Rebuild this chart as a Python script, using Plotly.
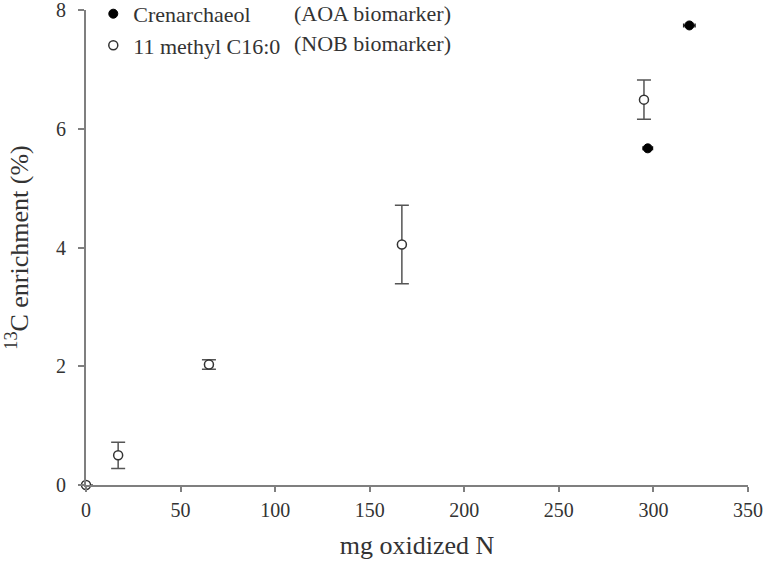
import plotly.graph_objects as go

# NOB biomarker (11 methyl C16:0) - open circles
nob_x = [0, 17, 65, 167, 295]
nob_y = [0, 0.50, 2.03, 4.05, 6.49]
nob_err = [0, 0.22, 0.08, 0.66, 0.33]

# AOA biomarker (Crenarchaeol) - filled circles
aoa_x = [297, 319]
aoa_y = [5.67, 7.74]
aoa_xerr = [2.5, 3.0]
aoa_yerr = [0.05, 0.03]

x_ticks = [0, 50, 100, 150, 200, 250, 300, 350]
y_ticks = [0, 2, 4, 6, 8]

font_family = "Liberation Serif"
axis_color = "#7f7f7f"
text_color = "#333333"

fig = go.Figure()

fig.add_trace(go.Scatter(
    x=aoa_x, y=aoa_y, mode="markers", name="Crenarchaeol",
    legendgroup="a",
    marker=dict(symbol="circle", size=9, color="black", line=dict(color="black", width=1)),
    error_x=dict(type="data", array=aoa_xerr, color="#222222", thickness=1.5, width=2),
    error_y=dict(type="data", array=aoa_yerr, color="#222222", thickness=1.5, width=2),
    cliponaxis=False,
))

fig.add_trace(go.Scatter(
    x=nob_x, y=nob_y, mode="markers", name="11 methyl C16:0",
    legendgroup="b",
    marker=dict(symbol="circle", size=9, color="white", line=dict(color="#333333", width=1.5)),
    error_y=dict(type="data", array=nob_err, color="#555555", thickness=1.5, width=7),
    cliponaxis=False,
))

fig.add_annotation(text="(AOA biomarker)", xref="paper", yref="paper",
                   x=0.554, y=0.993, xanchor="right", yanchor="middle",
                   showarrow=False, font=dict(family=font_family, size=22, color=text_color))
fig.add_annotation(text="(NOB biomarker)", xref="paper", yref="paper",
                   x=0.554, y=0.930, xanchor="right", yanchor="middle",
                   showarrow=False, font=dict(family=font_family, size=22, color=text_color))

fig.update_layout(
    width=766, height=566,
    margin=dict(l=86, r=18, t=10, b=81, autoexpand=False),
    paper_bgcolor="white", plot_bgcolor="white",
    font=dict(family=font_family, size=20, color=text_color),
    showlegend=True,
    legend=dict(x=0.011, y=1.036, xanchor="left", yanchor="top",
                bgcolor="rgba(0,0,0,0)", font=dict(family=font_family, size=22, color=text_color),
                tracegroupgap=0, itemwidth=30),
    xaxis=dict(range=[0, 350], tickvals=x_ticks, showgrid=False, zeroline=False,
               showline=True, linecolor=axis_color, linewidth=2,
               ticks="outside", ticklen=5, tickcolor=axis_color, tickwidth=2,
               ticklabelstandoff=1, ticklabeloverflow="allow",
               tickfont=dict(family=font_family, size=20, color=text_color),
               automargin=False,
               title=dict(text="mg oxidized N", standoff=16,
                          font=dict(family=font_family, size=26, color=text_color))),
    yaxis=dict(range=[0, 8], tickvals=y_ticks, showgrid=False, zeroline=False,
               showline=True, linecolor=axis_color, linewidth=2,
               ticks="outside", ticklen=6, tickcolor=axis_color, tickwidth=2,
               ticklabelstandoff=8, ticklabeloverflow="allow",
               tickfont=dict(family=font_family, size=20, color=text_color),
               automargin=False,
               title=dict(text="<sup>13</sup>C enrichment (%)", standoff=20,
                          font=dict(family=font_family, size=26, color=text_color))),
)

fig.write_html("out.html", config={"displayModeBar": False},
               post_script="document.body.style.margin='0px';")
